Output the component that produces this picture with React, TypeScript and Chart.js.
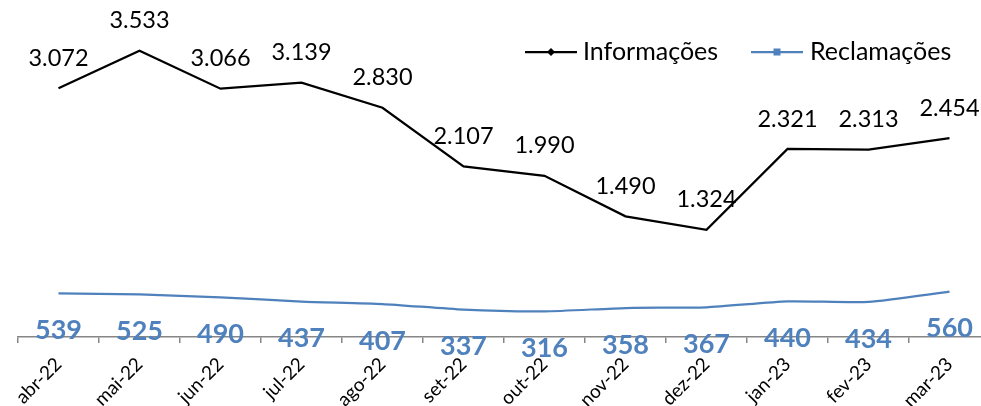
import React, { useEffect, useRef } from "react";
import { Chart, registerables } from "chart.js";

Chart.register(...registerables);

const categories = ["abr-22", "mai-22", "jun-22", "jul-22", "ago-22", "set-22", "out-22", "nov-22", "dez-22", "jan-23", "fev-23", "mar-23"];
const informacoes = [3072, 3533, 3066, 3139, 2830, 2107, 1990, 1490, 1324, 2321, 2313, 2454];
const reclamacoes = [539, 525, 490, 437, 407, 337, 316, 358, 367, 440, 434, 560];
const seriesNames = ["Informações", "Reclamações"];

const BLUE = "#4F81BD";
const FONT = "Lato, 'Open Sans', sans-serif";

const fmt = (v: number) => v.toLocaleString("pt-BR");

const labelsPlugin = {
  id: "customLabels",
  afterDraw(chart: any) {
    const ctx = chart.ctx;
    ctx.save();
    // data labels
    const m0 = chart.getDatasetMeta(0);
    ctx.textAlign = "center";
    ctx.textBaseline = "middle";
    ctx.fillStyle = "#000";
    ctx.font = `23.5px ${FONT}`;
    m0.data.forEach((p: any, i: number) => {
      ctx.fillText(fmt(informacoes[i]), p.x, p.y - 30);
    });
    const m1 = chart.getDatasetMeta(1);
    ctx.fillStyle = BLUE;
    ctx.font = `bold 27px ${FONT}`;
    m1.data.forEach((p: any, i: number) => {
      ctx.fillText(fmt(reclamacoes[i]), p.x, p.y + 37);
    });
    // legend
    const ly = 52;
    ctx.lineWidth = 2.25;
    ctx.strokeStyle = "#000";
    ctx.beginPath();
    ctx.moveTo(525, ly);
    ctx.lineTo(577, ly);
    ctx.stroke();
    ctx.fillStyle = "#000";
    ctx.beginPath();
    ctx.moveTo(551, ly - 4);
    ctx.lineTo(555, ly);
    ctx.lineTo(551, ly + 4);
    ctx.lineTo(547, ly);
    ctx.closePath();
    ctx.fill();
    ctx.font = `25px ${FONT}`;
    ctx.textAlign = "left";
    ctx.fillText(seriesNames[0], 583, ly);
    ctx.strokeStyle = BLUE;
    ctx.beginPath();
    ctx.moveTo(751, ly);
    ctx.lineTo(803, ly);
    ctx.stroke();
    ctx.fillStyle = BLUE;
    ctx.fillRect(773.5, ly - 3.5, 7, 7);
    ctx.fillStyle = "#000";
    ctx.fillText(seriesNames[1], 810, ly);
    ctx.restore();
  },
};

export default function App() {
  const ref = useRef<HTMLCanvasElement>(null);
  useEffect(() => {
    if (!ref.current) return;
    const chart = new Chart(ref.current, {
      type: "line",
      data: {
        labels: categories,
        datasets: [
          {
            label: seriesNames[0],
            data: informacoes,
            borderColor: "#000",
            backgroundColor: "#000",
            borderWidth: 2.25,
            pointRadius: 0,
            tension: 0,
          },
          {
            label: seriesNames[1],
            data: reclamacoes,
            borderColor: BLUE,
            backgroundColor: BLUE,
            borderWidth: 2.25,
            pointRadius: 0,
            tension: 0.2,
          },
        ],
      },
      options: {
        animation: false,
        responsive: false,
        devicePixelRatio: 1,
        layout: { padding: { left: 18, right: 10, top: 13, bottom: 0 } },
        plugins: {
          legend: { display: false },
          tooltip: { enabled: false },
        },
        scales: {
          x: {
            offset: true,
            grid: {
              offset: true,
              drawOnChartArea: false,
              drawTicks: true,
              tickLength: 6,
              color: "#868686",
              lineWidth: 1.5,
            },
            border: { display: true, color: "#868686", width: 1.5 },
            ticks: {
              minRotation: 45,
              maxRotation: 45,
              autoSkip: false,
              padding: 10,
              color: "#000",
              font: { family: FONT, size: 19 },
            },
            afterFit(scale: any) {
              scale.height = 69;
            },
          },
          y: {
            display: false,
            min: 0,
            max: 4000,
          },
        },
      },
      plugins: [labelsPlugin],
    });
    return () => chart.destroy();
  }, []);
  return (
    <div style={{ position: "fixed", left: 0, top: 0, width: 981, height: 406, overflow: "hidden", background: "#fff" }}>
      <canvas ref={ref} width={1000} height={406} style={{ display: "block" }} />
    </div>
  );
}
